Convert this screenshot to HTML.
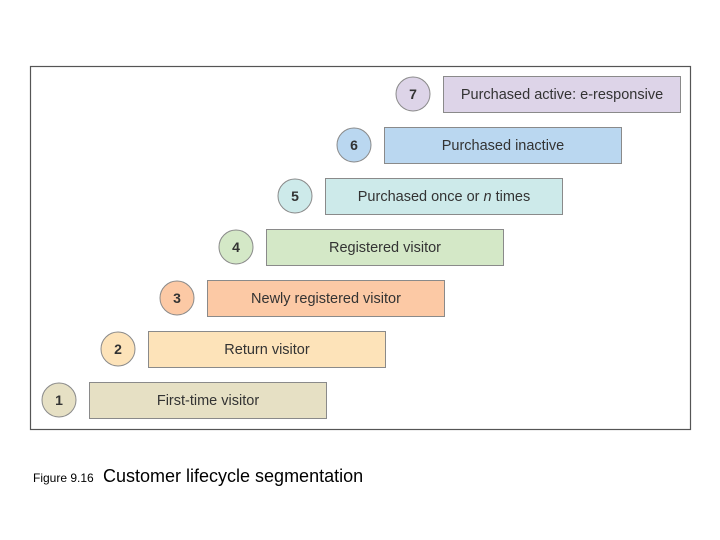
<!DOCTYPE html>
<html><head><meta charset="utf-8"><style>
html,body{margin:0;padding:0;background:#fff;}
svg{display:block;font-family:"Liberation Sans",Arial,sans-serif;}
</style></head><body>
<svg width="720" height="540" viewBox="0 0 720 540" xmlns="http://www.w3.org/2000/svg">
<rect x="30.5" y="66.5" width="660" height="363" fill="#fff" stroke="#555" stroke-width="1.2"/>
<g stroke="#8a8a8a" stroke-width="1">
<circle cx="59" cy="400" r="17" fill="#e6e0c4"/>
<rect x="89.5" y="382.5" width="237" height="36" fill="#e6e0c4"/>
<circle cx="118" cy="349" r="17" fill="#fde3b9"/>
<rect x="148.5" y="331.5" width="237" height="36" fill="#fde3b9"/>
<circle cx="177" cy="298" r="17" fill="#fcc9a5"/>
<rect x="207.5" y="280.5" width="237" height="36" fill="#fcc9a5"/>
<circle cx="236" cy="247" r="17" fill="#d4e8c7"/>
<rect x="266.5" y="229.5" width="237" height="36" fill="#d4e8c7"/>
<circle cx="295" cy="196" r="17" fill="#cdeaea"/>
<rect x="325.5" y="178.5" width="237" height="36" fill="#cdeaea"/>
<circle cx="354" cy="145" r="17" fill="#bad7f0"/>
<rect x="384.5" y="127.5" width="237" height="36" fill="#bad7f0"/>
<circle cx="413" cy="94" r="17" fill="#ddd4e8"/>
<rect x="443.5" y="76.5" width="237" height="36" fill="#ddd4e8"/>
</g>
<g font-size="14" font-weight="bold" fill="#333" text-anchor="middle">
<text x="59" y="405">1</text><text x="118" y="354">2</text><text x="177" y="303">3</text>
<text x="236" y="252">4</text><text x="295" y="201">5</text><text x="354" y="150">6</text>
<text x="413" y="99">7</text>
</g>
<g font-size="14.5" fill="#333" text-anchor="middle">
<text x="208" y="405">First-time visitor</text>
<text x="267" y="354">Return visitor</text>
<text x="326" y="303">Newly registered visitor</text>
<text x="385" y="252">Registered visitor</text>
<text x="444" y="201">Purchased once or <tspan font-style="italic">n</tspan> times</text>
<text x="503" y="150">Purchased inactive</text>
<text x="562" y="99">Purchased active: e-responsive</text>
</g>
<text x="33" y="482" font-size="12" fill="#000">Figure 9.16</text>
<text x="103" y="482" font-size="18" fill="#000">Customer lifecycle segmentation</text>
</svg>
</body></html>
